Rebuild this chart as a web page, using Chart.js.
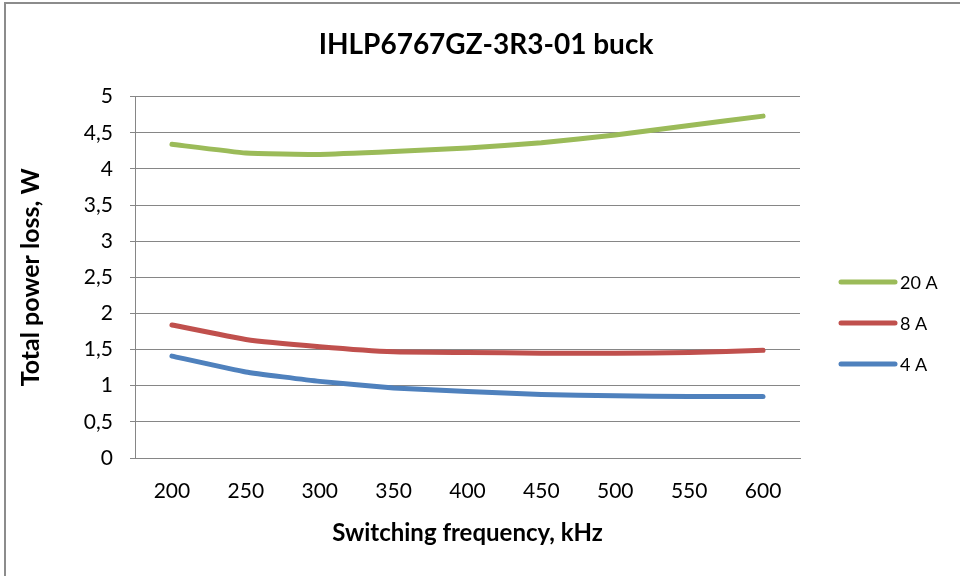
<!DOCTYPE html>
<html>
<head>
<meta charset="utf-8">
<script src="https://cdn.jsdelivr.net/npm/chart.js@4"></script>
<style>
  html, body { margin: 0; padding: 0; background: #fff; }
  #wrap { position: relative; width: 960px; height: 576px; overflow: hidden; }
  #frame { position: absolute; left: 4px; top: 2px; width: 970px; height: 590px; border: 2px solid #8c8c8c; box-sizing: border-box; }
  canvas { position: absolute; left: 0; top: 0; }
</style>
</head>
<body>
<div id="wrap">
  <div id="frame"></div>
  <canvas id="lossChart" width="960" height="576"></canvas>
</div>
<script>
// Data
const frequencies = ['200', '250', '300', '350', '400', '450', '500', '550', '600'];
const loss20A = [4.34, 4.22, 4.20, 4.24, 4.29, 4.36, 4.47, 4.60, 4.73];
const loss8A = [1.84, 1.64, 1.54, 1.47, 1.46, 1.45, 1.45, 1.46, 1.49];
const loss4A = [1.41, 1.19, 1.06, 0.97, 0.92, 0.88, 0.86, 0.85, 0.85];
const seriesNames = ['20 A', '8 A', '4 A'];
const yTicks = [0, 0.5, 1, 1.5, 2, 2.5, 3, 3.5, 4, 4.5, 5];

const FONT = 'Lato, "Open Sans", sans-serif';

// Legend on the right, drawn from the datasets
const sideLegend = {
    id: 'sideLegend',
    afterDraw(chart) {
        const ctx = chart.ctx;
        const x0 = 841, top = 282, step = 41;
        ctx.save();
        chart.data.datasets.forEach((ds, i) => {
            const y = top + i * step;
            ctx.strokeStyle = ds.borderColor;
            ctx.lineWidth = 5;
            ctx.lineCap = 'round';
            ctx.beginPath();
            ctx.moveTo(x0, y);
            ctx.lineTo(x0 + 54, y);
            ctx.stroke();
            ctx.fillStyle = '#000';
            ctx.font = '18px ' + FONT;
            ctx.textBaseline = 'middle';
            ctx.fillText(ds.label, x0 + 59, y + 1);
        });
        ctx.restore();
    }
};

function initChart() {
    const ctx = document.getElementById('lossChart').getContext('2d');
    new Chart(ctx, {
        type: 'line',
        data: {
            labels: frequencies,
            datasets: [
                { label: seriesNames[0], data: loss20A, borderColor: '#9BBB59' },
                { label: seriesNames[1], data: loss8A, borderColor: '#C0504D' },
                { label: seriesNames[2], data: loss4A, borderColor: '#4F81BD' }
            ]
        },
        options: {
            responsive: false,
            animation: false,
            layout: { padding: { left: 12, right: 0, top: 0, bottom: 24 } },
            elements: {
                line: { borderWidth: 5, tension: 0.12, borderCapStyle: 'round', borderJoinStyle: 'round' },
                point: { radius: 0 }
            },
            plugins: {
                legend: { display: false },
                tooltip: { enabled: false },
                title: {
                    display: true,
                    text: 'IHLP6767GZ-3R3-01 buck',
                    color: '#000',
                    font: { family: FONT, size: 28, weight: 'bold' },
                    padding: { top: 28, bottom: 35 }
                }
            },
            scales: {
                x: {
                    offset: true,
                    grid: { display: false, drawTicks: false },
                    border: { display: true, color: '#868686', width: 1 },
                    ticks: { color: '#000', font: { family: FONT, size: 21 }, padding: 21 },
                    title: {
                        display: true,
                        text: 'Switching frequency, kHz',
                        color: '#000',
                        font: { family: FONT, size: 24, weight: 'bold' },
                        padding: { top: 8 }
                    },
                    afterFit(scale) { scale.height = 94; }
                },
                y: {
                    min: 0,
                    max: 5,
                    afterBuildTicks(scale) { scale.ticks = yTicks.map(v => ({ value: v })); },
                    grid: { color: '#868686', lineWidth: 1, tickLength: 5, drawTicks: true },
                    border: { display: true, color: '#868686', width: 1 },
                    ticks: {
                        color: '#000',
                        font: { family: FONT, size: 21 },
                        padding: 17,
                        callback: v => String(v).replace('.', ',')
                    },
                    title: {
                        display: true,
                        text: 'Total power loss, W',
                        color: '#000',
                        font: { family: FONT, size: 25, weight: 'bold' },
                        padding: { bottom: 10 }
                    },
                    afterFit(scale) { scale.width = 123; }
                },
                // empty axis that keeps room for the legend on the right
                side: {
                    position: 'right',
                    display: true,
                    grid: { display: false, drawTicks: false },
                    border: { display: false },
                    ticks: { display: false },
                    afterFit(scale) { scale.width = 160; }
                }
            }
        },
        plugins: [sideLegend]
    });
}

initChart();
</script>
</body>
</html>
